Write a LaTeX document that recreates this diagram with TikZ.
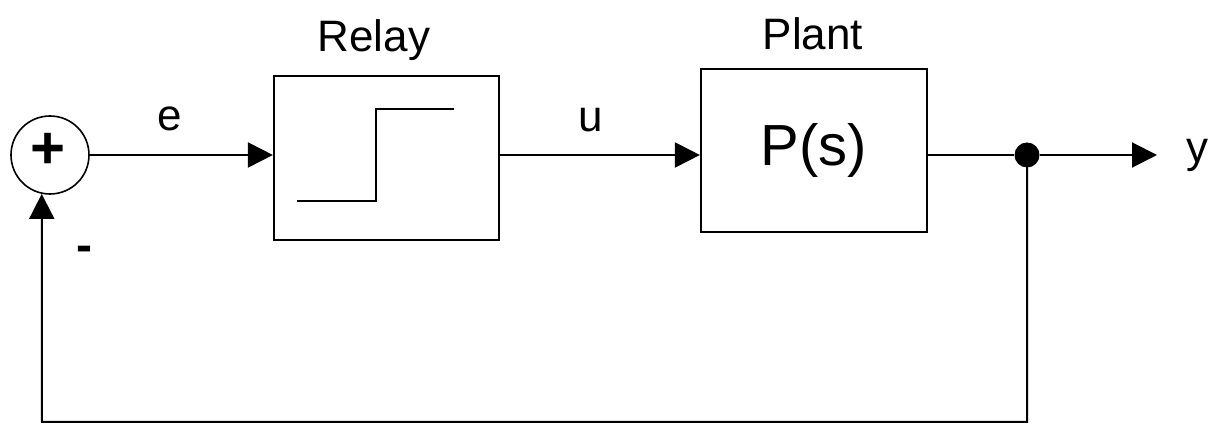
\documentclass[tikz,border=0pt]{standalone}
\usepackage{fontspec}
\setmainfont{Liberation Sans}
\usetikzlibrary{arrows.meta}
\begin{document}
\begin{tikzpicture}[x=0.5pt,y=-0.5pt,
  blk/.style={draw,line width=1.1pt,inner sep=0pt},
  wire/.style={line width=1pt},
  arr/.style={wire,-{Triangle[length=12.5pt,width=12.5pt]}},
  lbl/.style={font=\fontsize{22}{26}\selectfont,inner sep=0pt}]
\useasboundingbox (0,0) rectangle (1216,426);

% summing junction
\node[circle,draw,line width=0.8pt,minimum size=39pt,inner sep=0pt] (sum) at (50,155) {};
\node[font=\fontsize{30}{34}\selectfont\bfseries,inner sep=0pt] (plus) at (48,151) {+};
\node[lbl,font=\fontsize{24}{28}\selectfont\bfseries] (minus) at (84,254) {-};

% relay block with its step characteristic
\node[blk,minimum width=112.5pt,minimum height=82pt] (relay) at (386.5,158) {};
\coordinate (s1) at (297,201);
\coordinate (s2) at (376,201);
\coordinate (s3) at (376,109);
\coordinate (s4) at (454,109);
\draw[line width=1.1pt] (s1) -- (s2) -- (s3) -- (s4);
\node[lbl] (relaylbl) at (374,40) {Relay};

% plant block
\node[blk,minimum width=113pt,minimum height=81.5pt,font=\fontsize{29}{34}\selectfont] (plant) at (814,150.5) {P(s)};
\node[lbl] (plantlbl) at (813,34) {Plant};

% branch point and output
\node[circle,fill,minimum size=12.5pt,inner sep=0pt] (dot) at (1027,155) {};
\coordinate (out) at (1157,155);
\coordinate (bl) at (42,422);

% signal labels
\node[lbl] (elbl) at (170,119) {e};
\node[lbl] (ulbl) at (591,120) {u};
\node[lbl] (ylbl) at (1197,155) {y};

% connectors
\draw[arr] (sum.east) -- (sum.east -| relay.west);
\draw[arr] (relay.east |- sum) -- (plant.west |- sum);
\draw[wire] (plant.east |- sum) -- (dot);
\draw[arr] (dot) -- (out);
\draw[arr] (dot.center) |- (bl) -- (sum.-102);
\end{tikzpicture}
\end{document}
